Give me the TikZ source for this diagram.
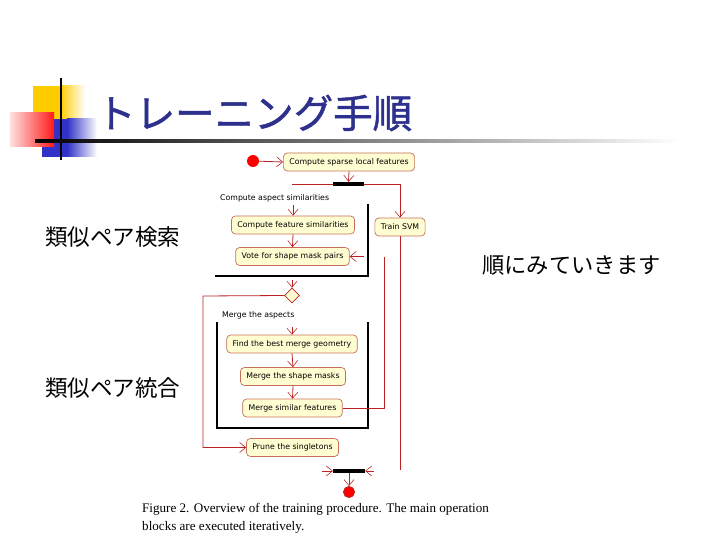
\documentclass[tikz,border=0pt]{standalone}
\usepackage{fontspec}
\setmainfont{Liberation Serif}
\setsansfont{DejaVu Sans}
\newfontfamily\jpfont{Noto Sans CJK JP}
\newfontfamily\jptitlefont[FakeBold=1.2]{Noto Sans CJK JP}
\usepackage{tikz}
\usetikzlibrary{arrows.meta,positioning,shapes.geometric,calc}

\definecolor{flowred}{RGB}{185,35,35}
\definecolor{boxedge}{RGB}{200,110,90}
\definecolor{boxfill}{RGB}{255,253,210}
\definecolor{titleblue}{RGB}{45,48,140}
\definecolor{decoyellow}{RGB}{255,204,0}
\definecolor{decoblue}{RGB}{50,50,200}

\tikzset{
  activity/.style={draw=boxedge,fill=boxfill,rounded corners=4pt,line width=0.7pt,
    font=\sffamily\fontsize{7.8}{9}\selectfont,inner xsep=6pt,minimum height=18pt},
  flow/.style={draw=flowred,line width=0.8pt},
  flowarrow/.style={flow,-{Straight Barb[length=6pt,width=10pt,line width=0.6pt]}},
  syncbar/.style={fill=black,minimum width=31pt,minimum height=4pt,inner sep=0pt},
  frameline/.style={draw=black,line width=1.1pt},
  framelabel/.style={font=\sffamily\fontsize{7.8}{9}\selectfont,anchor=west,inner sep=0pt},
  sidetext/.style={font=\jpfont\fontsize{22.5}{24}\selectfont,anchor=west,inner sep=0pt}
}

\begin{document}
\begin{tikzpicture}[x=1pt,y=-1pt]
\useasboundingbox (0,0) rectangle (720,540);

% title decoration
\fill[decoyellow] (33,86) rectangle (60,119);
\shade[left color=decoyellow,right color=white] (60,86) rectangle (85,119);
\fill[decoblue] (42,119) rectangle (67,157);
\shade[left color=decoblue,right color=white] (67,119) rectangle (97,157);
\shade[left color=red!12,right color=red!90] (10,113) rectangle (54,147);
\draw[line width=2pt] (61,78) -- (61,160);
\shade[left color=black,middle color=gray!70,right color=white] (35,140) rectangle (680,142.5);
\node[font=\jptitlefont\fontsize{39.5}{41}\selectfont,text=titleblue,anchor=west,inner sep=0pt] (title) at (96,113) {トレーニング手順};

% side texts
\node[sidetext] (search) at (45,237) {類似ペア検索};
\node[sidetext] (merge) at (45,388) {類似ペア統合};
\node[sidetext,font=\jpfont\fontsize{22.3}{24}\selectfont] (order) at (482,265) {順にみていきます};

% activity diagram
\node[circle,fill=red,inner sep=0pt,minimum size=12pt] (start) at (253,161) {};
\node[activity] (sparse) at (349,162) {Compute sparse local features};
\node[syncbar] (fork) at (348.5,184) {};
\node[activity] (svm) at (400,227) {Train SVM};
\node[framelabel] (aspectlabel) at (220,198) {Compute aspect similarities};
\node[activity] (feat) at (293,225) {Compute feature similarities};
\node[activity] (vote) at (292.5,256.5) {Vote for shape mask pairs};
\node[diamond,draw=flowred,fill=boxfill,line width=0.7pt,inner sep=0pt,minimum size=15pt] (choice) at (292,295.5) {};
\node[framelabel] (mergelabel) at (222,315) {Merge the aspects};
\node[activity] (geom) at (292,344) {Find the best merge geometry};
\node[activity] (masks) at (293,376.5) {Merge the shape masks};
\node[activity] (similar) at (292.5,408) {Merge similar features};
\node[activity] (prune) at (292.5,447.5) {Prune the singletons};
\node[syncbar,minimum width=32pt] (join) at (349,471) {};
\node[circle,draw=flowred,fill=red,line width=1pt,inner sep=0pt,minimum size=11pt] (finish) at (349,492) {};

% frames
\draw[frameline] (368,204) -- (368,276) -- (215,276);
\draw[frameline] (217,322) -- (217,428) -- (368,428) -- (368,322);

% free ends
\coordinate (forkleft) at (292,184);
\coordinate (aspectin) at (293,205);
\coordinate (loopin) at (364,256.5);
\coordinate (looptop) at (384,257);
\coordinate (choicein) at (292,280);
\coordinate (backleft) at (203,296);
\coordinate (mergein) at (292,327);
\coordinate (svmend) at (400,470);
\coordinate (joinleft) at (322,471);
\coordinate (joinright) at (374,471);

% connectors
\draw[flowarrow] (start) -- (sparse.west);
\draw[flowarrow] (sparse.south) -- (fork.north);
\draw[flow] (fork.west) -- (forkleft);
\draw[flowarrow] (fork.east) -| (svm.north);
\draw[flowarrow] (aspectin) -- (feat.north);
\draw[flowarrow] (feat.south) -- (vote.north);
\draw[flowarrow] (loopin) -- (vote.east);
\draw[flow] (similar.east) -| (looptop);
\draw[flowarrow] (choicein) -- (choice.north);
\draw[flowarrow] (choice.west) -- (backleft) |- (prune.west);
\draw[flowarrow] (mergein) -- (geom.north);
\draw[flowarrow] (geom.south) -- (masks.north);
\draw[flowarrow] (masks.south) -- (similar.north);
\draw[flow] (svm.south) -- (svmend);
\draw[flowarrow] (joinleft) -- (join.west);
\draw[flowarrow] (joinright) -- (join.east);
\draw[flowarrow] (join.south) -- (finish.north);

% caption
\node[anchor=west,inner sep=0pt,font=\fontsize{13.1}{18}\selectfont,align=left] (caption) at (142,518)
  {Figure 2. Overview of the training procedure. The main operation\\blocks are executed iteratively.};
\end{tikzpicture}
\end{document}
